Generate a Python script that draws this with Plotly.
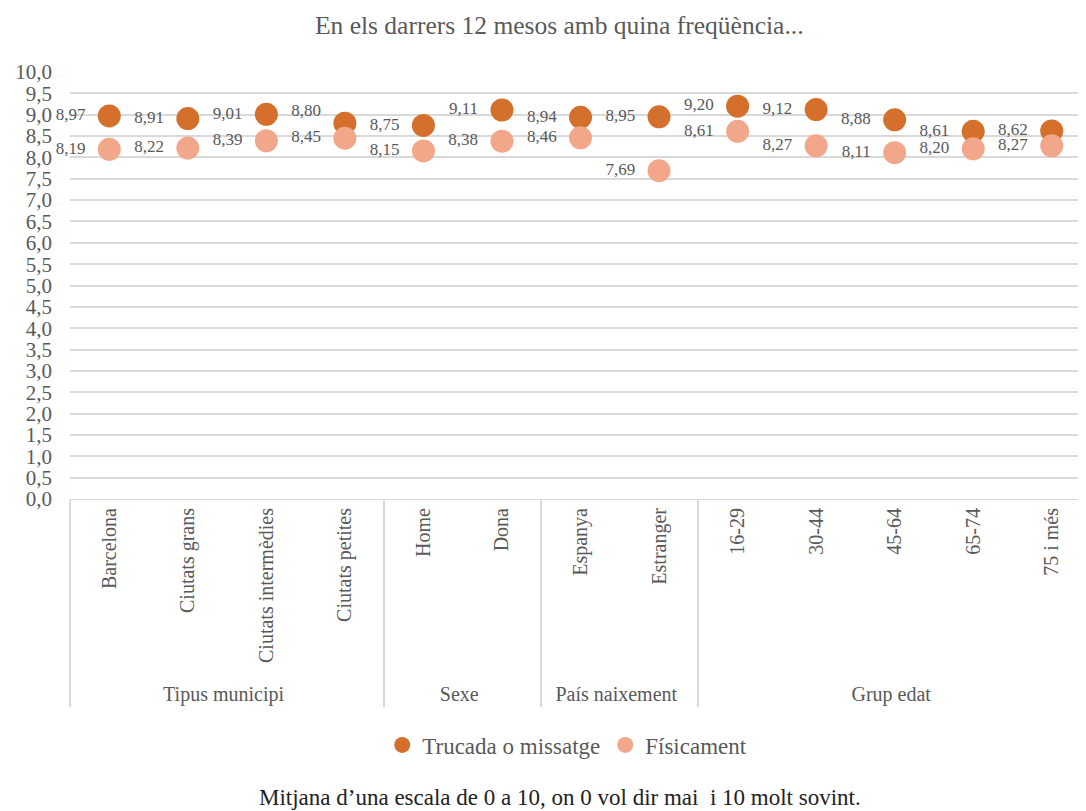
import plotly.graph_objects as go

groups = ["Tipus municipi"] * 4 + ["Sexe"] * 2 + ["País naixement"] * 2 + ["Grup edat"] * 5
categories = ["Barcelona", "Ciutats grans", "Ciutats intermèdies", "Ciutats petites",
              "Home", "Dona", "Espanya", "Estranger",
              "16-29", "30-44", "45-64", "65-74", "75 i més"]
trucada = [8.97, 8.91, 9.01, 8.80, 8.75, 9.11, 8.94, 8.95, 9.20, 9.12, 8.88, 8.61, 8.62]
fisicament = [8.19, 8.22, 8.39, 8.45, 8.15, 8.38, 8.46, 7.69, 8.61, 8.27, 8.11, 8.20, 8.27]
y_ticks = [i * 0.5 for i in range(21)]

FONT = "Liberation Serif"
GRAY = "#595959"
DARK = "#D4702C"
LIGHT = "#F2A78A"
NB = "\u00a0"

label = "%{y:.2f}" + NB * 2
# the "Ciutats petites" call label sits slightly higher in the reference
tmpl_trucada = [label] * len(categories)
tmpl_trucada[3] = label + "<br>" + NB
tmpl_fis = [label] * len(categories)

fig = go.Figure()
fig.add_trace(go.Scatter(
    x=[groups, categories], y=trucada, mode="markers+text", name="Trucada o missatge",
    marker=dict(color=DARK, size=23), cliponaxis=False,
    texttemplate=tmpl_trucada, textposition="middle left",
    textfont=dict(family=FONT, size=17, color=GRAY),
))
fig.add_trace(go.Scatter(
    x=[groups, categories], y=fisicament, mode="markers+text", name="Físicament",
    marker=dict(color=LIGHT, size=23), cliponaxis=False,
    texttemplate=tmpl_fis, textposition="middle left",
    textfont=dict(family=FONT, size=17, color=GRAY),
))

fig.update_layout(
    width=1083, height=803,
    margin=dict(l=62, r=0, t=64, b=312, autoexpand=False),
    paper_bgcolor="white", plot_bgcolor="white",
    separators=",.",
    font=dict(family=FONT, size=20, color=GRAY),
    title=dict(text="En els darrers 12 mesos amb quina freqüència...", x=0.509, xanchor="center",
               y=0.979, yanchor="middle", font=dict(family=FONT, size=25.5, color=GRAY)),
    showlegend=True,
    legend=dict(orientation="h", x=0.487, xanchor="center", y=-0.576, yanchor="middle",
                font=dict(family=FONT, size=23, color=GRAY), itemsizing="trace",
                itemwidth=30, tracegroupgap=0),
    yaxis=dict(range=[0, 10], tickvals=y_ticks, tickformat=".1f", showgrid=True,
               gridcolor="#D9D9D9", gridwidth=1.5, zeroline=False, showline=False,
               automargin=False, ticklabelstandoff=17,
               tickfont=dict(family=FONT, size=21, color=GRAY), ticks="", ticklen=0),
    xaxis=dict(type="multicategory", range=[-0.5, 12.5], tickangle=-90, showgrid=False,
               showline=True, automargin=False,
               linecolor="#D9D9D9", showdividers=True, dividercolor="#D9D9D9", dividerwidth=1.5,
               tickfont=dict(family=FONT, size=20, color=GRAY), ticks=""),
)

fig.add_annotation(text="Mitjana d’una escala de 0 a 10, on 0 vol dir mai  i 10 molt sovint.",
                   xref="paper", yref="paper", x=0.48, y=-0.698, xanchor="center", yanchor="middle",
                   showarrow=False, font=dict(family=FONT, size=23, color="#222222"))

fig.write_html("out.html")
